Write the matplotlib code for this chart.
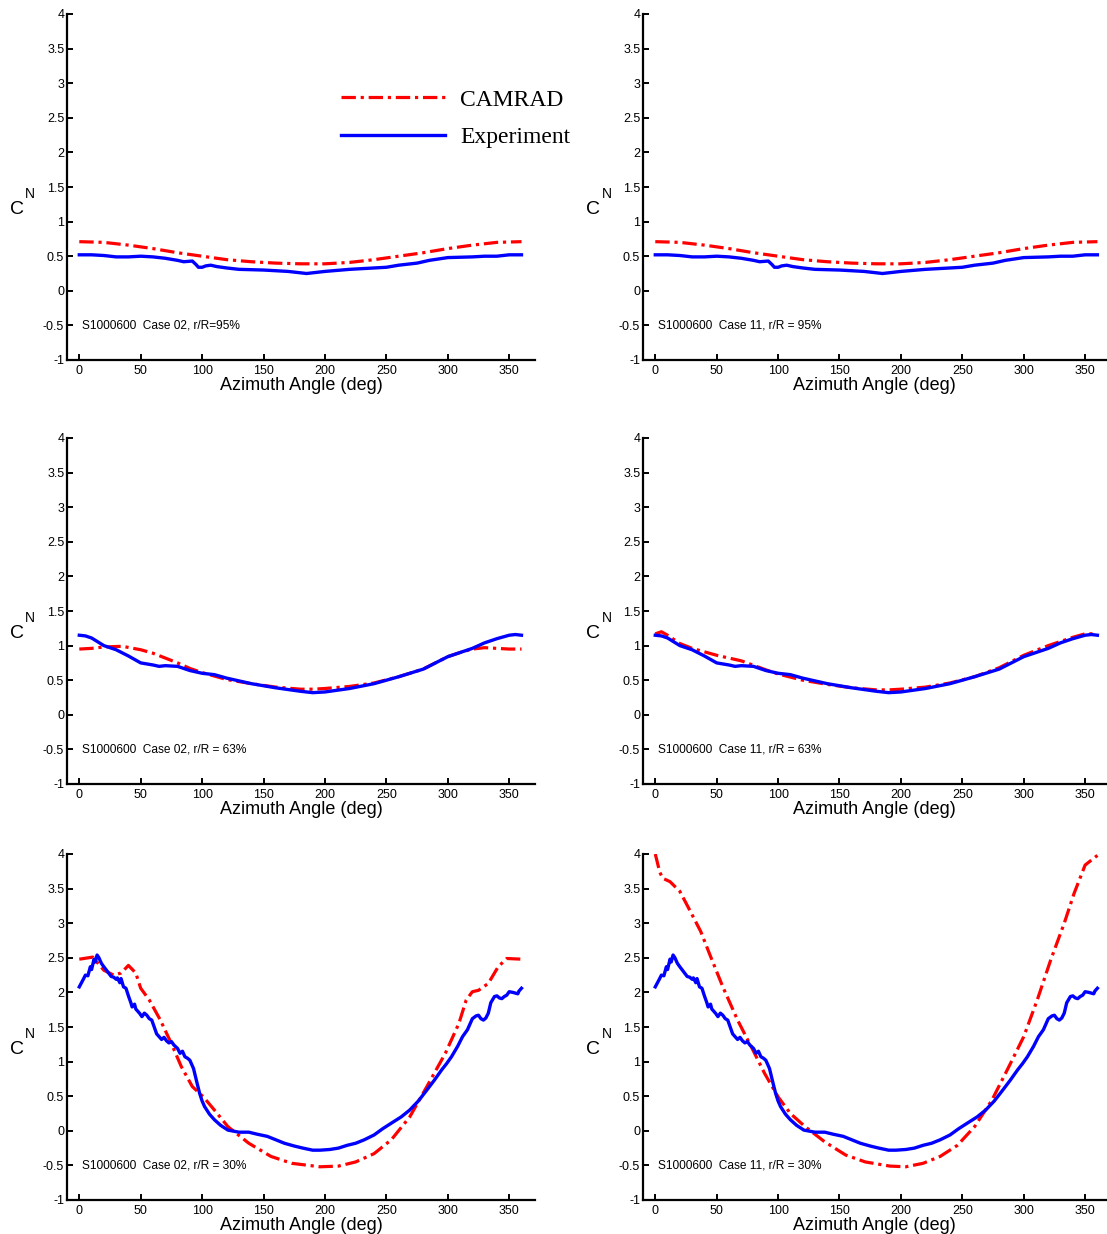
import matplotlib
matplotlib.use("Agg")
import matplotlib.pyplot as plt
import numpy as np

plt.rcParams['font.family'] = ['Liberation Sans', 'DejaVu Sans']

# ---- r/R = 95% (same for Case 02 and Case 11) ----
psi_95_cam = [0, 20, 40, 60, 80, 100, 120, 140, 160, 180, 200, 220, 240, 260, 280, 300, 320, 340, 360]
cn_95_cam = [0.71, 0.70, 0.66, 0.61, 0.55, 0.50, 0.45, 0.42, 0.40, 0.39, 0.39, 0.41, 0.45, 0.50, 0.55,
             0.61, 0.66, 0.70, 0.71]
psi_95_exp = [0, 10, 20, 30, 40, 50, 60, 70, 80, 85, 92, 95, 97, 100, 103, 107, 112, 120, 130, 150,
              170, 185, 190, 200, 220, 240, 250, 260, 275, 285, 300, 320, 330, 340, 350, 360]
cn_95_exp = [0.52, 0.52, 0.51, 0.49, 0.49, 0.50, 0.49, 0.47, 0.44, 0.42, 0.43, 0.38, 0.34, 0.34, 0.36,
             0.37, 0.35, 0.33, 0.31, 0.30, 0.28, 0.25, 0.26, 0.28, 0.31, 0.33, 0.34, 0.37, 0.40, 0.44,
             0.48, 0.49, 0.50, 0.50, 0.52, 0.52]

# ---- r/R = 63% ----
psi_63_cam02 = [0, 10, 20, 35, 50, 60, 70, 80, 90, 100, 110, 120, 140, 160, 180, 190, 200, 220, 240,
                260, 280, 300, 310, 320, 330, 340, 350, 360]
cn_63_cam02 = [0.95, 0.96, 0.98, 0.99, 0.94, 0.89, 0.82, 0.75, 0.67, 0.61, 0.56, 0.51, 0.45, 0.40,
               0.37, 0.37, 0.38, 0.41, 0.46, 0.55, 0.66, 0.84, 0.90, 0.95, 0.97, 0.96, 0.95, 0.95]
psi_63_cam11 = [0, 5, 10, 20, 30, 50, 70, 90, 100, 120, 140, 160, 180, 190, 200, 220, 240, 260, 280,
                300, 320, 340, 350, 360]
cn_63_cam11 = [1.17, 1.20, 1.15, 1.03, 0.96, 0.86, 0.78, 0.65, 0.59, 0.50, 0.44, 0.39, 0.36, 0.36,
               0.37, 0.40, 0.46, 0.55, 0.68, 0.86, 1.00, 1.12, 1.17, 1.17]
psi_63_exp = [0, 5, 10, 20, 30, 40, 50, 60, 65, 70, 80, 90, 100, 110, 120, 140, 160, 180, 190, 200,
              220, 240, 260, 280, 300, 320, 330, 340, 350, 355, 360]
cn_63_exp = [1.15, 1.14, 1.11, 1.00, 0.94, 0.85, 0.75, 0.72, 0.70, 0.71, 0.70, 0.64, 0.60, 0.58, 0.53,
             0.45, 0.39, 0.34, 0.32, 0.33, 0.38, 0.45, 0.55, 0.66, 0.84, 0.96, 1.04, 1.10, 1.15, 1.16,
             1.15]

# ---- r/R = 30% ----
psi_30_cam02 = [0, 11, 20, 28, 34, 40, 46, 50, 57, 66, 75, 83, 92, 101, 110, 121, 138, 156, 173, 196,
                211, 225, 240, 254, 269, 283, 298, 309, 315, 320, 325, 333, 341, 348, 360]
cn_30_cam02 = [2.48, 2.51, 2.32, 2.25, 2.28, 2.39, 2.28, 2.06, 1.89, 1.60, 1.26, 0.93, 0.64, 0.49,
               0.30, 0.06, -0.18, -0.37, -0.47, -0.52, -0.51, -0.45, -0.33, -0.13, 0.20, 0.64, 1.12,
               1.55, 1.89, 2.01, 2.03, 2.13, 2.37, 2.49, 2.48]
psi_30_cam11 = [0, 3.6, 6, 12, 20, 28, 37, 45, 55, 67, 78, 89, 100, 110, 122, 138, 155, 171, 191, 204,
                218, 232, 246, 260, 274, 288, 300, 311, 322, 333, 341, 350, 360]
cn_30_cam11 = [4.0, 3.74, 3.65, 3.60, 3.46, 3.19, 2.88, 2.52, 2.08, 1.60, 1.22, 0.83, 0.49, 0.25, 0.06,
               -0.16, -0.35, -0.45, -0.51, -0.52, -0.47, -0.37, -0.21, 0.06, 0.44, 0.93, 1.36, 1.89,
               2.47, 3.00, 3.43, 3.84, 3.98]
psi_30_exp = [0, 3, 5, 7, 9, 10, 12, 13, 14.5, 16, 18, 20, 23, 26, 28, 30, 31, 33, 34, 36, 38, 40, 42,
              43, 45, 46, 49, 51, 53, 55, 57, 59, 61, 63, 65, 67, 69, 71, 73, 75, 77, 80, 82, 84, 86,
              88, 90, 93, 96, 98, 100, 102, 106, 110, 115, 121, 130, 138, 145, 153, 160, 167, 175, 182,
              190, 196, 204, 211, 218, 225, 232, 240, 247, 254, 262, 269, 276, 283, 289, 295, 299, 303,
              308, 312, 316, 320, 323, 325, 327, 329, 331, 333, 335, 338, 340, 342, 344, 346, 348, 350,
              353, 355, 357, 358, 360]
cn_30_exp = [2.08, 2.18, 2.25, 2.24, 2.37, 2.33, 2.48, 2.44, 2.54, 2.50, 2.42, 2.37, 2.30, 2.23, 2.22,
             2.19, 2.21, 2.14, 2.20, 2.08, 2.06, 1.95, 1.85, 1.79, 1.83, 1.76, 1.70, 1.65, 1.70, 1.67,
             1.62, 1.60, 1.50, 1.40, 1.36, 1.32, 1.35, 1.30, 1.27, 1.29, 1.24, 1.19, 1.12, 1.15, 1.07,
             1.05, 1.02, 0.90, 0.68, 0.54, 0.43, 0.35, 0.24, 0.16, 0.08, 0.01, -0.02, -0.02, -0.05,
             -0.08, -0.13, -0.18, -0.22, -0.25, -0.28, -0.28, -0.27, -0.25, -0.21, -0.18, -0.13, -0.06,
             0.03, 0.11, 0.20, 0.30, 0.43, 0.59, 0.73, 0.88, 0.97, 1.07, 1.22, 1.36, 1.46, 1.62, 1.66,
             1.67, 1.62, 1.60, 1.63, 1.70, 1.85, 1.94, 1.95, 1.92, 1.91, 1.94, 1.96, 2.01, 2.00, 1.99,
             1.98, 2.02, 2.06]

panels = [
    (psi_95_cam, cn_95_cam, psi_95_exp, cn_95_exp, "S1000600  Case 02, r/R=95%"),
    (psi_95_cam, cn_95_cam, psi_95_exp, cn_95_exp, "S1000600  Case 11, r/R = 95%"),
    (psi_63_cam02, cn_63_cam02, psi_63_exp, cn_63_exp, "S1000600  Case 02, r/R = 63%"),
    (psi_63_cam11, cn_63_cam11, psi_63_exp, cn_63_exp, "S1000600  Case 11, r/R = 63%"),
    (psi_30_cam02, cn_30_cam02, psi_30_exp, cn_30_exp, "S1000600  Case 02, r/R = 30%"),
    (psi_30_cam11, cn_30_cam11, psi_30_exp, cn_30_exp, "S1000600  Case 11, r/R = 30%"),
]

W, H = 1107, 1234
fig = plt.figure(figsize=(W / 100, H / 100), dpi=100)

row_bottoms = [360, 784, 1200]   # pixel y of the x axis
col_lefts = [67, 643]
ax_h = 346
ax_ws = [468, 463]
xmaxs = [371, 367]

red_dash = (4.5, 1.5, 1.0, 1.5)

for i, (xc, yc, xe, ye, note) in enumerate(panels):
    r, c = divmod(i, 2)
    left = col_lefts[c] / W
    bottom = 1 - row_bottoms[r] / H
    ax = fig.add_axes([left, bottom, ax_ws[c] / W, ax_h / H])

    ax.plot(xc, yc, color='red', lw=2.3, dashes=red_dash, label='CAMRAD')
    ax.plot(xe, ye, color='blue', lw=2.4, label='Experiment')

    ax.set_xlim(-10, xmaxs[c])
    ax.set_ylim(-1, 4)
    ax.set_xticks(np.arange(0, 351, 50))
    ax.set_yticks(np.arange(-1, 4.01, 0.5))
    ax.set_yticklabels(['-1', '-0.5', '0', '0.5', '1', '1.5', '2', '2.5', '3', '3.5', '4'])
    for s in ['top', 'right']:
        ax.spines[s].set_visible(False)
    for s in ['left', 'bottom']:
        ax.spines[s].set_linewidth(1.6)
    ax.tick_params(direction='in', length=4, width=1.4, labelsize=9)
    ax.tick_params(axis='x', pad=3.5)
    ax.tick_params(axis='y', pad=2)
    ax.set_xlabel('Azimuth Angle (deg)', fontsize=13, labelpad=0)

    ax.text(-0.107, 0.435, 'C', transform=ax.transAxes, fontsize=14, ha='center', va='center')
    ax.text(-0.079, 0.48, 'N', transform=ax.transAxes, fontsize=10, ha='center', va='center')
    ax.text(2, -0.5, note, fontsize=8.6, va='center', ha='left')

    if i == 0:
        ax.legend(loc='upper left', bbox_to_anchor=(0.56, 0.817), frameon=False,
                  prop={'family': 'Liberation Serif', 'size': 17}, handlelength=4.4,
                  handletextpad=0.65, labelspacing=0.68, borderpad=0)

fig.savefig('out.png', dpi=100)
